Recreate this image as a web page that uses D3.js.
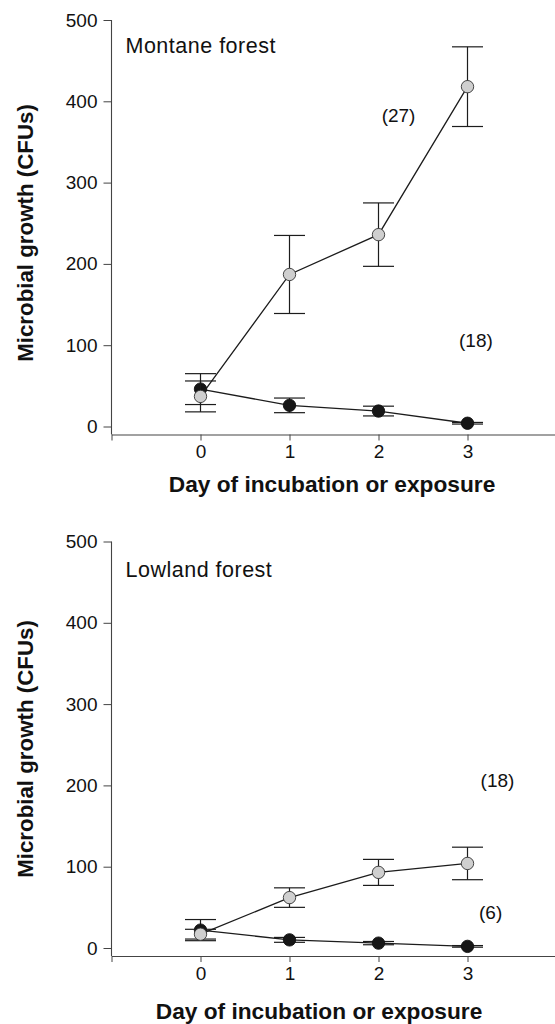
<!DOCTYPE html>
<html>
<head>
<meta charset="utf-8">
<script src="https://cdn.jsdelivr.net/npm/d3@7/dist/d3.min.js"></script>
<style>
  html, body { margin: 0; padding: 0; background: #fff; }
  svg { display: block; }
  text { font-family: "Liberation Sans", Arial, Helvetica, sans-serif; fill: #111; }
</style>
</head>
<body>
<svg id="chart" width="555" height="1024"></svg>
<script>
// ---- data ----
const days = [0, 1, 2, 3];
const xTickValues = [-1, 0, 1, 2, 3];
const yTickValues = [0, 100, 200, 300, 400, 500];

const montaneGray = [37, 187, 236, 418];
const montaneGrayErr = [19, 48, 39, 49];
const montaneBlack = [46, 26, 19, 4];
const montaneBlackErr = [19, 9, 6, 1];

const lowlandGray = [17, 62, 93, 104];
const lowlandGrayErr = [6, 12, 16, 20];
const lowlandBlack = [22, 10, 6, 2];
const lowlandBlackErr = [13, 3, 2, 1];

const montaneNotes = [{ text: "(27)", day: 2.225, value: 374 }, { text: "(18)", day: 3.095, value: 98 }];
const lowlandNotes = [{ text: "(18)", day: 3.337, value: 198 }, { text: "(6)", day: 3.26, value: 36 }];

const panelTitles = ["Montane forest", "Lowland forest"];
const xTitle = "Day of incubation or exposure";
const yTitle = "Microbial growth (CFUs)";

// ---- layout ----
const panels = [
  { title: panelTitles[0], gray: montaneGray, grayErr: montaneGrayErr, black: montaneBlack, blackErr: montaneBlackErr,
    notes: montaneNotes, y0: 426.5, y500: 20, axisY: 434.5, titleY: 52.5, xTitleX: 332, xTitleY: 492, yTitleCy: 233 },
  { title: panelTitles[1], gray: lowlandGray, grayErr: lowlandGrayErr, black: lowlandBlack, blackErr: lowlandBlackErr,
    notes: lowlandNotes, y0: 948, y500: 541.5, axisY: 956, titleY: 576.5, xTitleX: 319, xTitleY: 1019, yTitleCy: 749 }
];

const svg = d3.select("#chart");
const x = d3.scaleLinear().domain([-1, 4]).range([111.5, 556.5]);
const axisColor = "#444";
const ink = "#1c1c1c";

panels.forEach(p => {
  const y = d3.scaleLinear().domain([0, 500]).range([p.y0, p.y500]);
  const g = svg.append("g");

  // y axis
  const yAxis = d3.axisLeft(y).tickValues(yTickValues).tickSize(8).tickPadding(6).tickSizeOuter(0);
  const ya = g.append("g").attr("transform", `translate(${x(-1)},0)`).call(yAxis);
  ya.select(".domain").remove();
  ya.selectAll(".tick line").attr("stroke", axisColor).attr("stroke-width", 1);
  ya.selectAll(".tick text").style("font-size", "19px").attr("fill", "#111");
  g.append("line")
    .attr("x1", x(-1)).attr("x2", x(-1))
    .attr("y1", y(500)).attr("y2", p.axisY)
    .attr("stroke", axisColor).attr("stroke-width", 1.1);

  // x axis
  const xAxis = d3.axisBottom(x).tickValues(xTickValues).tickSize(6).tickPadding(4.5).tickSizeOuter(0)
    .tickFormat(d => d < 0 ? "" : d3.format("d")(d));
  const xa = g.append("g").attr("transform", `translate(0,${p.axisY})`).call(xAxis);
  xa.select(".domain").attr("stroke", axisColor).attr("stroke-width", 1.1);
  xa.selectAll(".tick line").attr("stroke", axisColor).attr("stroke-width", 1);
  xa.selectAll(".tick text").style("font-size", "19px").attr("fill", "#111");

  // axis titles
  g.append("text")
    .attr("x", p.xTitleX).attr("y", p.xTitleY)
    .attr("text-anchor", "middle")
    .style("font-size", "22.7px").style("font-weight", "bold")
    .text(xTitle);
  g.append("text")
    .attr("transform", `translate(33,${p.yTitleCy}) rotate(-90)`)
    .attr("text-anchor", "middle")
    .style("font-size", "22.3px").style("font-weight", "bold")
    .text(yTitle);

  // panel label
  g.append("text")
    .attr("x", 125.5).attr("y", p.titleY)
    .style("font-size", "21.5px").style("letter-spacing", "0.5px")
    .text(p.title);

  // notes
  p.notes.forEach(n => {
    g.append("text")
      .attr("x", x(n.day)).attr("y", y(n.value))
      .attr("text-anchor", "middle")
      .style("font-size", "19px")
      .text(n.text);
  });

  const line = d3.line().x((d, i) => x(days[i])).y(d => y(d));
  const cap = 15.5;

  function drawSeries(vals, errs, fill, stroke) {
    const sg = g.append("g");
    // error bars
    vals.forEach((v, i) => {
      const cx = x(days[i]);
      const top = y(v + errs[i]), bot = y(Math.max(v - errs[i], 0));
      sg.append("line").attr("x1", cx).attr("x2", cx).attr("y1", top).attr("y2", bot)
        .attr("stroke", ink).attr("stroke-width", 1.2);
      [top, bot].forEach(yy => {
        sg.append("line").attr("x1", cx - cap).attr("x2", cx + cap).attr("y1", yy).attr("y2", yy)
          .attr("stroke", ink).attr("stroke-width", 1.2);
      });
    });
    sg.append("path").datum(vals).attr("d", line)
      .attr("fill", "none").attr("stroke", ink).attr("stroke-width", 1.3);
    sg.selectAll("circle").data(vals).enter().append("circle")
      .attr("cx", (d, i) => x(days[i])).attr("cy", d => y(d)).attr("r", 6.2)
      .attr("fill", fill).attr("stroke", stroke).attr("stroke-width", 0.9);
  }

  drawSeries(p.black, p.blackErr, "#161616", "#111");
  drawSeries(p.gray, p.grayErr, "#cfcfcf", "#333");
});
</script>
</body>
</html>
